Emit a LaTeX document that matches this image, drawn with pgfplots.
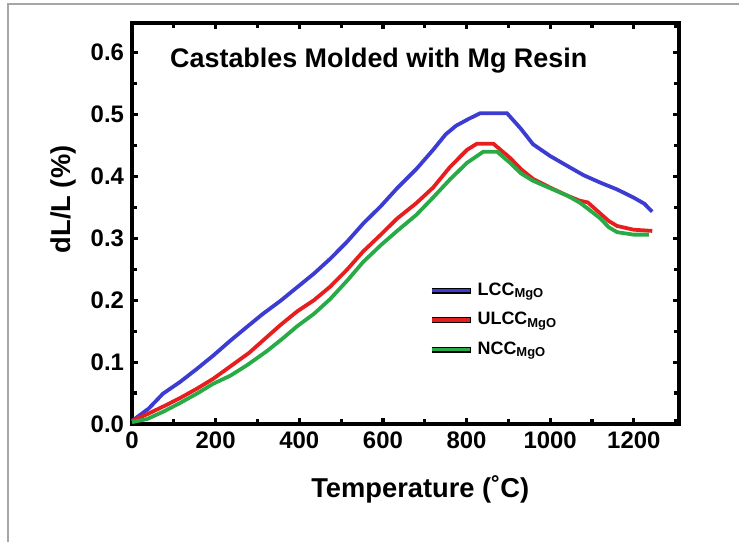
\documentclass[border=0pt]{standalone}
\usepackage{fontspec}
\setmainfont{Liberation Sans}
\usepackage{pgfplots}
\pgfplotsset{compat=1.18}
\begin{document}
\begin{tikzpicture}
\useasboundingbox (-66bp,-59bp) rectangle (303.5bp,212bp);
\draw[gray!70, line width=0.6pt] (-62bp,-59bp) -- (-62bp,210bp) -- (303.5bp,210bp);
\begin{axis}[
  at={(0,0)}, anchor=south west,
  scale only axis, width=273.5bp, height=200.5bp,
  xmin=0, xmax=1308, ymin=0, ymax=0.648,
  axis line style={line width=2pt},
  xtick={0,200,...,1200}, minor xtick={100,300,...,1300},
  ytick={0,0.1,...,0.6}, minor ytick={0.05,0.15,...,0.65},
  tick align=inside,
  major tick length=3bp, minor tick length=2.5bp,
  every tick/.style={black, line width=1.6pt},
  /pgf/number format/assume math mode=true,
  /pgf/number format/1000 sep={},
  yticklabel style={/pgf/number format/fixed, /pgf/number format/fixed zerofill, /pgf/number format/precision=1},
  ticklabel style={font=\fontsize{12}{14}\selectfont\bfseries},
  xticklabel style={yshift=-0.5bp},
  yticklabel style={xshift=-0.5bp},
  xlabel={Temperature (˚C)},
  ylabel={dL/L (\%)},
  label style={font=\fontsize{13.7}{16}\selectfont\bfseries},
  xlabel style={at={(axis description cs:0.527,-0.164)}, anchor=center},
  ylabel style={at={(axis description cs:-0.126,0.56)}, anchor=center},
  legend style={draw=none, fill=none, at={(rel axis cs:0.538,0.368)}, anchor=north west,
    font=\fontsize{9}{10}\selectfont\bfseries, row sep=3bp, inner sep=1bp},
  legend cell align=left,
  legend image code/.code={
    \draw[black, line width=3pt] (0bp,0bp) -- (19.5bp,0bp);
    \draw[#1, line width=1.9pt] (0.3bp,0bp) -- (19.2bp,0bp);
  },
  clip=false,
]
\addplot[color={rgb,255:red,60;green,60;blue,210}, line width=1.9pt] coordinates {
(0,0.005) (40,0.025) (74,0.049) (115,0.068) (155,0.089) (195,0.111) (234,0.134) (275,0.157)
(313,0.178) (355,0.199) (395,0.221) (435,0.243) (474,0.267) (515,0.295) (553,0.324)
(595,0.352) (634,0.381) (680,0.412) (720,0.443) (750,0.468) (775,0.482) (805,0.493) (832,0.502)
(897,0.502) (930,0.477) (959,0.452) (1000,0.433) (1041,0.417) (1080,0.402) (1120,0.39)
(1160,0.379) (1199,0.366) (1225,0.356) (1244,0.343)
};
\addlegendentry{LCC\raisebox{-0.25ex}{\fontsize{6.5}{7}\selectfont MgO}}
\addplot[color={rgb,255:red,230;green,30;blue,30}, line width=1.9pt] coordinates {
(0,0.005) (40,0.017) (80,0.03) (115,0.042) (155,0.057) (194,0.073) (235,0.093) (280,0.115)
(320,0.139) (355,0.16) (395,0.182) (435,0.2) (474,0.222) (515,0.25) (553,0.279)
(595,0.306) (634,0.332) (680,0.357) (720,0.382) (760,0.415) (801,0.443) (825,0.453)
(864,0.453) (904,0.43) (930,0.412) (959,0.396) (1000,0.382) (1041,0.369) (1070,0.361)
(1090,0.358) (1120,0.34) (1140,0.328) (1160,0.32) (1199,0.314) (1244,0.312)
};
\addlegendentry{ULCC\raisebox{-0.25ex}{\fontsize{6.5}{7}\selectfont MgO}}
\addplot[color={rgb,255:red,40;green,170;blue,70}, line width=1.9pt] coordinates {
(0,0.003) (36,0.008) (75,0.02) (115,0.034) (155,0.049) (194,0.065) (235,0.078) (275,0.095)
(323,0.118) (360,0.138) (395,0.158) (435,0.178) (474,0.202) (515,0.232) (553,0.262)
(595,0.289) (634,0.312) (680,0.338) (720,0.366) (760,0.395) (801,0.422) (840,0.44)
(873,0.44) (904,0.422) (930,0.405) (959,0.393) (1000,0.381) (1041,0.369) (1070,0.358)
(1090,0.348) (1120,0.332) (1140,0.318) (1160,0.31) (1199,0.306) (1236,0.306)
};
\addlegendentry{NCC\raisebox{-0.25ex}{\fontsize{6.5}{7}\selectfont MgO}}
\node[anchor=west, font=\fontsize{13.5}{15}\selectfont\bfseries] at (rel axis cs:0.057,0.905) {Castables Molded with Mg Resin};
\end{axis}
\end{tikzpicture}
\end{document}
